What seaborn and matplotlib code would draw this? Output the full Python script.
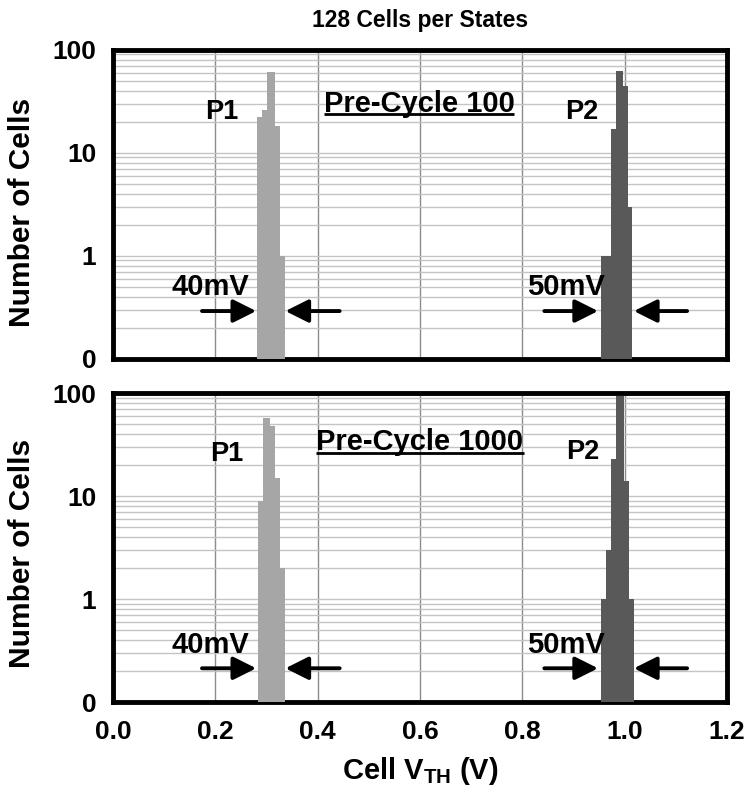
import numpy as np
import pandas as pd
import matplotlib
matplotlib.use('Agg')
import matplotlib.pyplot as plt
import seaborn as sns
from matplotlib.ticker import FixedLocator, FixedFormatter, NullFormatter, LogLocator

sns.set_style('white')
plt.rcParams['font.family'] = ['Liberation Sans', 'DejaVu Sans']
plt.rcParams['font.weight'] = 'bold'
plt.rcParams['text.color'] = 'black'
plt.rcParams['xtick.color'] = 'black'
plt.rcParams['ytick.color'] = 'black'
plt.rcParams['axes.labelcolor'] = 'black'
plt.rcParams['mathtext.fontset'] = 'custom'
plt.rcParams['mathtext.rm'] = 'Liberation Sans:bold'
plt.rcParams['mathtext.bf'] = 'Liberation Sans:bold'

# bin edges (V) and cell counts
p1_edges_100 = [0.281, 0.291, 0.301, 0.317, 0.327, 0.337]
p1_counts_100 = [22, 26, 61, 18, 1]
p2_edges_100 = [0.953, 0.963, 0.973, 0.984, 0.996, 1.006, 1.015]
p2_counts_100 = [1, 1, 17, 62, 44, 3]

p1_edges_1000 = [0.284, 0.294, 0.307, 0.317, 0.327, 0.336]
p1_counts_1000 = [9, 58, 48, 15, 2]
p2_edges_1000 = [0.953, 0.963, 0.973, 0.984, 0.999, 1.009, 1.018]
p2_counts_1000 = [1, 3, 23, 95, 14, 1]

panel_names = ['Pre-Cycle 100', 'Pre-Cycle 1000']
y_ticks = [0.1, 1, 10, 100]
y_ticklabels = ['0', '1', '10', '100']
x_ticks = [0.0, 0.2, 0.4, 0.6, 0.8, 1.0, 1.2]

c_p1 = '#a6a6a6'
c_p2 = '#595959'

fig = plt.figure(figsize=(7.53, 7.90), dpi=100)
ax1 = fig.add_axes([0.150, 0.546, 0.8155, 0.391])
ax2 = fig.add_axes([0.150, 0.111, 0.8155, 0.391])

data = [
    (ax1, p1_edges_100, p1_counts_100, p2_edges_100, p2_counts_100),
    (ax2, p1_edges_1000, p1_counts_1000, p2_edges_1000, p2_counts_1000),
]

for ax, e1, n1, e2, n2 in data:
    for edges, counts, col in [(e1, n1, c_p1), (e2, n2, c_p2)]:
        e = np.array(edges)
        df = pd.DataFrame({'v': (e[:-1] + e[1:]) / 2, 'n': counts})
        sns.histplot(data=df, x='v', weights='n', bins=list(edges), ax=ax, color=col,
                     alpha=1, linewidth=0, edgecolor='none', zorder=3)
    ax.set_yscale('log')
    ax.set_ylim(0.1, 100)
    ax.set_xlim(0, 1.2)
    ax.yaxis.set_major_locator(FixedLocator(y_ticks))
    ax.yaxis.set_major_formatter(FixedFormatter(y_ticklabels))
    ax.yaxis.set_minor_locator(LogLocator(base=10, subs=np.arange(2, 10)))
    ax.yaxis.set_minor_formatter(NullFormatter())
    ax.set_xticks(x_ticks)
    ax.grid(True, axis='y', which='both', color='#c4c4c4', lw=1)
    ax.grid(True, axis='x', which='major', color='#8c8c8c', lw=1)
    ax.set_axisbelow(True)
    for s in ax.spines.values():
        s.set_linewidth(3.5)
        s.set_color('black')
    ax.tick_params(axis='x', direction='in', length=7, width=3, labelsize=19, pad=13)
    ax.tick_params(axis='y', which='major', direction='in', length=7, width=3,
                   labelsize=19, pad=12)
    ax.tick_params(axis='y', which='minor', length=0)
    ax.set_xlabel('')
    ax.set_ylabel('')

ax1.tick_params(axis='x', labelbottom=False)

fig.text(0.5578, 1 - 20 / 790, '128 Cells per States', ha='center', va='center',
         fontsize=16.5, fontweight='bold')
fig.text(0.5578, 1 - 771 / 790, r'Cell V$_{\mathbf{TH}}$ (V)', ha='center', va='center',
         fontsize=21, fontweight='bold')
fig.text(0.029, 1 - 212 / 790, 'Number of Cells', rotation=90, ha='center', va='center',
         fontsize=21.5, fontweight='bold')
fig.text(0.029, 1 - 553 / 790, 'Number of Cells', rotation=90, ha='center', va='center',
         fontsize=21.5, fontweight='bold')

arrow_kw = dict(arrowstyle='-|>,head_length=0.7,head_width=0.35', lw=2.8, color='black',
                shrinkA=0, shrinkB=0, mutation_scale=20)

labels = []
# top panel annotations
ax1.text(0.213, 24.8, 'P1', ha='center', va='center', fontsize=19.5, fontweight='bold')
ax1.text(0.916, 24.8, 'P2', ha='center', va='center', fontsize=19.5, fontweight='bold')
labels.append((ax1, ax1.text(0.598, 30, panel_names[0], ha='center', va='center',
                             fontsize=21, fontweight='bold')))
ax1.text(0.19, 0.50, '40mV', ha='center', va='center', fontsize=21, fontweight='bold')
ax1.text(0.885, 0.50, '50mV', ha='center', va='center', fontsize=21, fontweight='bold')
for x0, x1 in [(0.174, 0.280), (0.443, 0.337), (0.843, 0.948), (1.122, 1.018)]:
    ax1.annotate('', xy=(x1, 0.29), xytext=(x0, 0.29), arrowprops=arrow_kw)

# bottom panel annotations
ax2.text(0.223, 25.6, 'P1', ha='center', va='center', fontsize=19.5, fontweight='bold')
ax2.text(0.918, 26.7, 'P2', ha='center', va='center', fontsize=19.5, fontweight='bold')
labels.append((ax2, ax2.text(0.6, 33.4, panel_names[1], ha='center', va='center',
                             fontsize=21, fontweight='bold')))
ax2.text(0.19, 0.357, '40mV', ha='center', va='center', fontsize=21, fontweight='bold')
ax2.text(0.885, 0.357, '50mV', ha='center', va='center', fontsize=21, fontweight='bold')
for x0, x1 in [(0.174, 0.280), (0.443, 0.337), (0.843, 0.948), (1.122, 1.018)]:
    ax2.annotate('', xy=(x1, 0.214), xytext=(x0, 0.214), arrowprops=arrow_kw)

# underline the panel names
fig.canvas.draw()
for ax, t in labels:
    bb = t.get_window_extent().transformed(ax.transAxes.inverted())
    ax.plot([bb.x0, bb.x1], [bb.y0 + 0.012] * 2, transform=ax.transAxes,
            color='black', lw=2, solid_capstyle='butt')

fig.savefig('out.png', dpi=100)
